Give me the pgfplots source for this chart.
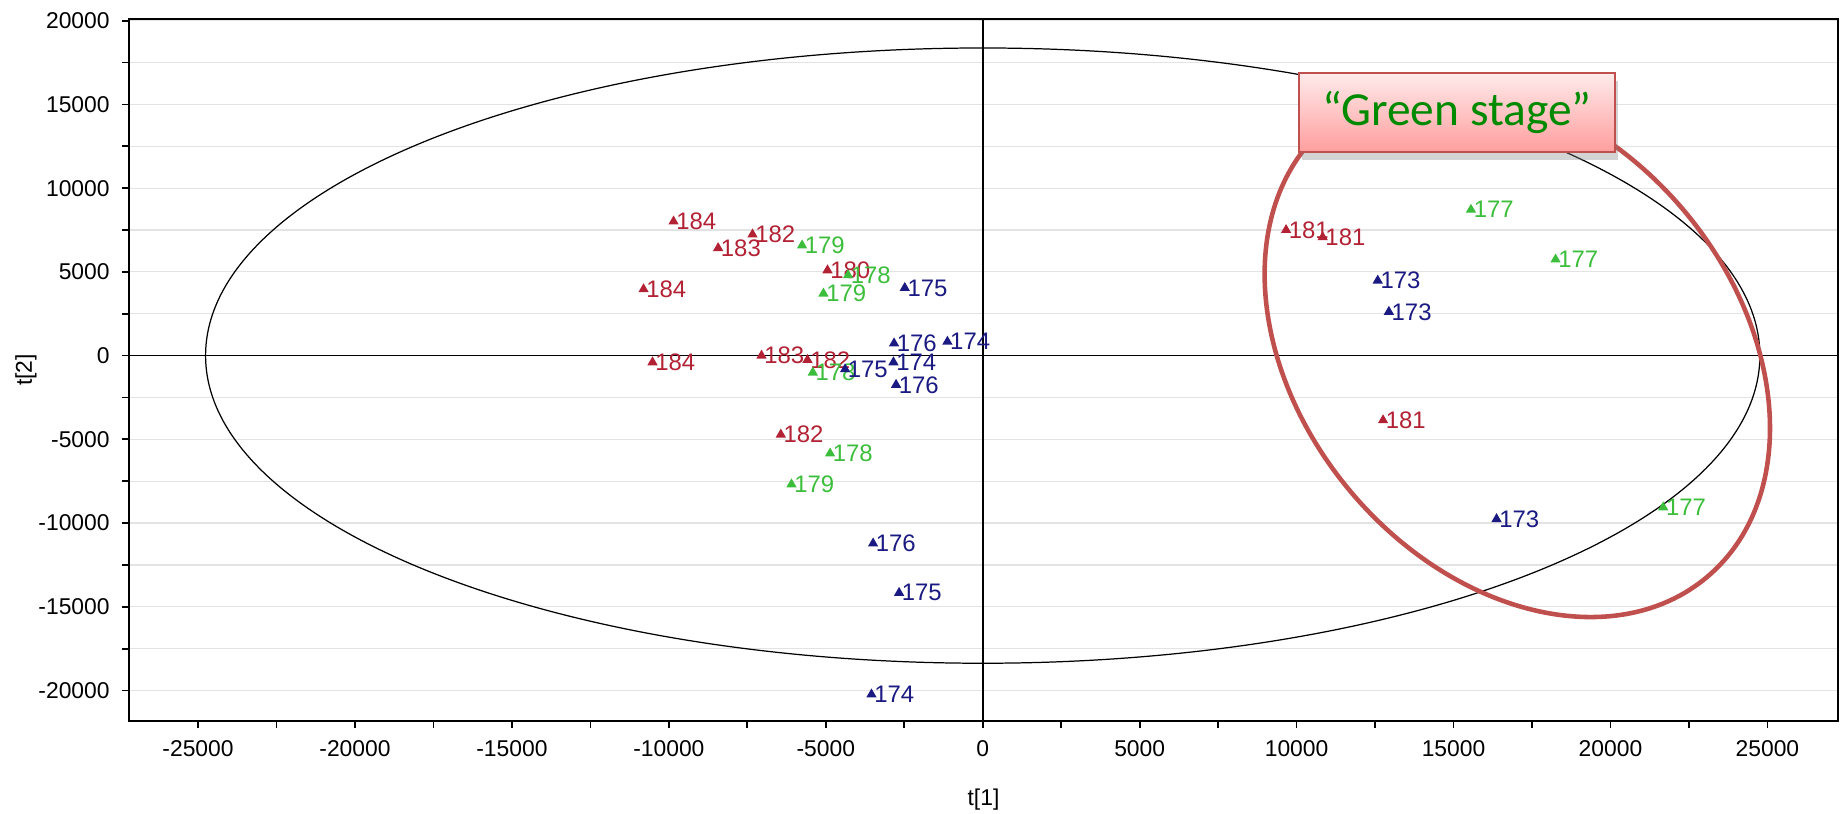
\documentclass[border=0pt]{standalone}
\usepackage{fontspec}
\setmainfont{Liberation Sans}
\newfontfamily\calibri{Carlito}
\usepackage{pgfplots}
\usepackage{pgfplotstable}
\pgfplotsset{compat=1.18}
\usetikzlibrary{shadows}

\definecolor{redpt}{HTML}{B22234}
\definecolor{greenpt}{HTML}{3CBE3C}
\definecolor{bluept}{HTML}{1A1A82}
\definecolor{ringred}{HTML}{C0504D}
\definecolor{stagegreen}{HTML}{008A00}

% score plot t[1] vs t[2]
\pgfplotstableread{
x y label
-9850 8010 184
-7335 7235 182
-8430 6420 183
-10806 3965 184
-4946 5095 180
-7048 0 183
-5583 -256 182
-10520 -398 184
-6433 -4715 182
9665 7500 181
10830 7075 181
12755 -3860 181
}\redtab
\pgfplotstableread{
x y label
-5755 6580 179
-4290 4800 178
-5075 3705 179
-5414 -1011 178
-4863 -5844 178
-6093 -7688 179
15555 8710 177
18250 5740 177
21680 -9060 177
}\greentab
\pgfplotstableread{
x y label
-2484 4043 175
-2825 731 176
-1125 832 174
-2844 -398 174
-4385 -814 175
-2761 -1742 176
-3493 -11218 176
-2665 -14168 175
-3545 -20232 174
12585 4480 173
12940 2615 173
16370 -9760 173
}\bluetab

\begin{document}
\begin{tikzpicture}
\useasboundingbox (-12.9mm,-9.2mm) rectangle (171.6mm,72.1mm);
\begin{axis}[
  at={(0,0)}, anchor=south west,
  scale only axis, width=170.9mm, height=70.2mm,
  xmin=-27200, xmax=27250, ymin=-21820, ymax=20100,
  xtick={-25000,-20000,...,25000},
  ytick={-20000,-15000,...,20000},
  minor x tick num=1, minor y tick num=1,
  tick pos=left, tick align=outside,
  major tick length=0.7mm, minor tick length=0.7mm,
  every tick/.style={black, line width=0.5pt},
  ymajorgrids, yminorgrids,
  major grid style={gray!22, line width=0.35pt},
  minor grid style={gray!22, line width=0.35pt},
  axis line style={line width=0.6pt},
  scaled ticks=false,
  /pgf/number format/1000 sep={},
  /pgf/number format/assume math mode=true,
  tick label style={font=\fontsize{6.5}{7}\selectfont},
  xlabel={t[1]}, ylabel={t[2]},
  label style={font=\fontsize{6.5}{7}\selectfont},
  xlabel style={at={(axis description cs:0.5,-0.1125)}, anchor=center},
  ylabel style={at={(axis description cs:-0.0603,0.5)}, anchor=center},
  only marks, mark=triangle*, mark size=1.3pt,
  nodes near coords, point meta=explicit symbolic,
  every node near coord/.append style={anchor=west, inner sep=0.6pt, font=\fontsize{6.8}{7}\selectfont},
]
\draw[black, line width=0.35pt] (axis cs:24760,0) arc[start angle=0, end angle=360, x radius=24760, y radius=18370];
\draw[black, line width=0.45pt] (axis cs:-27200,0) -- (axis cs:27250,0);
\draw[black, line width=0.45pt] (axis cs:0,-21820) -- (axis cs:0,20100);

\addplot[color=redpt, every node near coord/.append style={text=redpt}] table[x=x, y=y, meta=label] {\redtab};
\addplot[color=greenpt, every node near coord/.append style={text=greenpt}] table[x=x, y=y, meta=label] {\greentab};
\addplot[color=bluept, every node near coord/.append style={text=bluept}] table[x=x, y=y, meta=label] {\bluetab};

\draw[ringred, line width=1.3pt] (axis cs:17032,268) ellipse [x radius=29.5mm, y radius=21.8mm, rotate=-50];
\node[draw=ringred, line width=0.6pt, top color=red!8, bottom color=red!38,
  drop shadow={opacity=0.35, shadow xshift=0.3mm, shadow yshift=-0.8mm},
  minimum width=31.6mm, minimum height=7.9mm, inner sep=0pt,
  font=\calibri\fontsize{13.5}{14}\selectfont, text=stagegreen]
  at (axis cs:15112,14530) {“Green stage”};
\end{axis}
\end{tikzpicture}
\end{document}
